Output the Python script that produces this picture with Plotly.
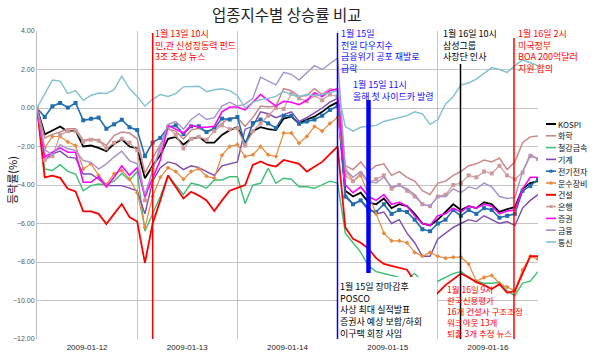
import plotly.graph_objects as go

# ---------------- data ----------------
dates = ["2009-01-12", "2009-01-13", "2009-01-14", "2009-01-15", "2009-01-16"]
pts_per_day = 13

kospi = [0, -1.37, -1.17, -0.96, -1.22, -1.17, -2.0, -1.95, -2.07, -2.24, -1.86, -1.63, -2.0,
         -2.1, -3.65, -3.0, -2.45, -1.6, -1.5, -1.9, -1.6, -1.5, -1.8, -1.8, -1.4,
         -1.15, -1.0, -1.83, -1.2, -1.0, -1.1, -1.15, -0.55, -0.45, -0.8, -0.6, -0.45, -0.2, 0.1, 0.3,
         -4.3, -4.6, -4.4, -4.9, -5.0, -4.7, -5.2, -5.0, -5.1, -5.5, -6.0, -6.1, -5.8,
         -5.4, -5.0, -5.3, -5.1, -5.2, -4.9, -5.0, -5.4, -5.25, -5.15, -4.2, -3.9, -3.8]
chem = [0, -1.55, -1.37, -1.25, -1.08, -1.08, -1.69, -1.6, -1.69, -1.95, -1.43, -1.25, -1.3,
        -1.6, -3.4, -2.6, -1.9, -1.1, -1.2, -1.6, -1.15, -1.05, -1.25, -1.1, -0.8,
        -0.5, -0.5, -0.95, -0.5, 0.1, 0.05, 0.1, 1.0, 0.9, 0.6, 0.65, 1.0, 0.7, 1.0, 0.9,
        -3.0, -3.2, -2.8, -3.3, -3.0, -2.9, -3.5, -3.3, -3.6, -3.8, -4.3, -4.5, -3.9,
        -3.8, -3.5, -3.3, -3.0, -2.9, -2.7, -2.8, -2.6, -3.2, -2.8, -1.8, -1.5, -1.45]
steel = [0, -3.17, -3.25, -2.94, -3.29, -3.43, -4.3, -4.03, -3.95, -3.98, -3.8, -3.39, -3.77,
         -3.3, -6.4, -5.5, -4.6, -3.5, -4.0, -4.5, -3.9, -4.0, -4.17, -3.74, -3.74,
         -3.57, -3.57, -4.96, -4.0, -3.91, -3.13, -3.91, -3.65, -3.7, -4.09, -4.09, -4.17, -4.0, -3.8, -3.9,
         -6.5, -7.0, -7.5, -8.2, -8.5, -8.6, -8.7, -8.8, -8.9, -8.6, -9.0, -9.1, -9.0,
         -8.8, -8.6, -8.5, -8.8, -9.0, -9.1, -9.1, -9.05, -9.5, -9.75, -9.1, -9.0, -8.5]
machine = [0, -2.7, -2.38, -2.24, -2.55, -2.6, -3.43, -3.43, -3.7, -4.03, -4.03, -4.03, -4.16,
           -4.3, -5.5, -3.8, -3.1, -2.8, -2.9, -3.2, -3.0, -3.1, -3.3, -3.5, -3.0,
           -2.9, -2.8, -1.1, -0.95, -0.2, -0.3, -0.5, -0.35, -0.2, -0.7, -0.5, -0.25, 0.0, 0.3, 0.5,
           -4.5, -5.0, -4.8, -5.2, -5.5, -5.4, -6.0, -5.8, -6.5, -7.0, -7.7, -7.7, -6.8,
           -6.5, -6.2, -6.0, -5.8, -5.9, -5.6, -5.8, -6.0, -5.9, -6.1, -5.2, -4.8, -4.5]
elec = [0, -0.47, 0.09, 0.26, 0.02, 0.26, -0.64, -0.56, -0.5, -1.08, -0.85, -0.61, -1.0,
        -1.15, -2.5, -1.8, -1.55, -1.0, -0.9, -1.35, -0.95, -0.95, -1.25, -1.05, -0.55,
        -0.6, -0.47, -1.91, -0.78, -0.6, -0.8, -1.04, -0.4, -0.4, -0.82, -0.7, -0.6, -0.4, -0.1, 0.1,
        -4.6, -5.0, -4.8, -5.3, -5.4, -5.0, -5.5, -5.3, -5.4, -5.8, -6.3, -6.4, -6.0,
        -5.8, -5.3, -5.6, -5.3, -5.5, -5.2, -5.3, -5.7, -5.6, -5.5, -4.3, -4.05, -3.7]
transport = [0, -2.07, -1.48, -1.48, -1.77, -1.95, -3.17, -2.9, -3.5, -3.98, -3.42, -3.25, -3.68,
             -4.4, -6.2, -4.6, -3.6, -3.1, -3.3, -3.7, -3.3, -3.15, -3.55, -3.65, -2.45,
             -2.0, -1.9, -2.52, -2.43, -2.0, -2.43, -2.52, -1.3, -1.3, -1.83, -1.48, -0.96, -1.2, -0.8, -0.5,
             -3.2, -3.8, -3.5, -4.5, -5.5, -6.5, -6.9, -6.9, -7.0, -7.5, -7.7, -7.5, -7.7,
             -7.8, -7.75, -7.75, -8.1, -9.0, -8.8, -8.7, -9.1, -9.3, -9.5, -8.4, -7.7, -7.85]
construct = [0, -3.6, -3.51, -3.63, -4.2, -4.33, -5.37, -5.37, -5.5, -6.03, -5.5, -4.99, -5.67,
             -5.9, -8.05, -6.0, -4.8, -3.5, -4.1, -4.7, -4.35, -4.55, -4.8, -5.35, -4.8,
             -4.3, -4.15, -4.0, -2.96, -2.78, -2.96, -3.04, -2.7, -2.8, -2.9, -3.3, -3.04, -2.8, -2.4, -2.0,
             -6.2, -6.8, -7.0, -7.3, -7.8, -8.1, -8.2, -8.3, -8.4, -9.0, -9.5, -10.1, -9.6,
             -9.2, -8.9, -8.6, -8.8, -9.05, -9.2, -9.4, -9.15, -9.6, -9.5, -8.6, -7.7, -7.7]
bank = [0, -2.7, -2.5, -1.4, -1.2, -1.2, -1.75, -1.65, -1.7, -2.1, -1.8, -1.6, -1.8,
        -2.2, -4.8, -3.2, -2.2, -1.0, -1.4, -2.1, -1.6, -1.5, -1.65, -1.2, -0.9,
        -1.1, -1.05, -1.95, -1.2, -0.8, -0.4, 0.0, -0.05, 0.75, 0.5, 0.35, 0.65, 0.4, 0.7, 0.6,
        -3.5, -3.8, -3.4, -3.9, -3.7, -3.5, -4.2, -4.0, -4.3, -4.6, -5.0, -5.1, -4.6,
        -4.5, -4.0, -3.9, -3.5, -3.6, -3.3, -3.4, -3.0, -3.5, -3.7, -3.35, -2.5, -2.65]
securities = [0, -2.55, -2.3, -2.07, -2.3, -2.3, -3.86, -3.86, -3.57, -4.1, -3.6, -3.0, -3.5,
              -3.1, -4.6, -3.6, -2.7, -0.9, -1.1, -1.3, -0.9, -1.0, -1.0, -0.95, -0.2,
              0.05, 0.05, -0.1, 0.3, 0.7, 0.4, 0.1, 0.35, 0.3, 0.17, 0.4, 0.8, 0.6, 0.9, 1.0,
              -4.0, -4.4, -4.1, -4.6, -4.8, -4.5, -5.0, -4.9, -5.1, -5.6, -6.0, -6.1, -5.6,
              -5.5, -5.2, -5.4, -5.1, -5.2, -5.0, -5.1, -5.5, -5.35, -5.3, -4.2, -3.6, -3.6]
finance = [0, -2.17, -2.42, -1.9, -2.12, -2.2, -2.73, -2.82, -3.17, -2.9, -2.55, -2.25, -2.73,
           -2.9, -4.5, -3.2, -2.0, -0.85, -0.7, -1.1, -0.6, -0.3, -0.6, -0.5, 0.1,
           0.3, 0.1, 0.2, 0.5, 1.6, 1.4, 1.2, 1.85, 1.75, 1.45, 1.8, 2.2, 2.0, 2.3, 2.6,
           -3.2, -3.6, -3.3, -3.8, -3.9, -3.6, -4.1, -4.0, -4.2, -4.5, -5.0, -5.1, -4.6,
           -4.6, -4.2, -4.4, -4.1, -4.2, -3.9, -4.1, -4.6, -4.7, -4.65, -3.3, -2.4, -2.65]
telecom = [0, 0.7, 1.45, 1.40, 0.75, 0.9, 0.4, 0.65, 0.78, 0.75, 0.95, 1.65, 1.0,
           0.6, 0.1, 0.45, 0.7, 0.6, 0.75, 1.1, 1.1, 1.13, 0.85, 0.95, 1.0,
           0.9, 0.65, 0.0, 0.3, 0.43, 0.5, 0.6, 0.87, 0.7, 0.6, 0.7, 0.65, 0.7, 0.8, 0.9,
           -0.96, -1.2, -1.0, -0.95, -0.9, -0.7, -0.6, -0.5, -0.4, -0.2, -0.3, -0.85, -0.6,
           0.2, 0.6, 1.2, 1.3, 1.5, 1.8, 2.1, 2.0, 1.85, 2.2, 2.5, 2.35, 2.2]

series_names = ["KOSPI", "화학", "철강금속", "기계", "전기전자", "운수장비", "건설", "은행", "증권", "금융", "통신"]
series_values = [kospi, chem, steel, machine, elec, transport, construct, bank, securities, finance, telecom]
colors = ["#000000", "#C8888C", "#3DBE74", "#7D4BB0", "#1F6DAE", "#E8893C", "#FF0000",
          "#D09A9A", "#FF00FF", "#A592CC", "#82C0D2"]
widths = [1.8, 1.5, 1.4, 1.4, 1.6, 1.2, 1.8, 1.2, 1.6, 1.4, 1.4]
markers = [None, None, None, None, "square", "diamond", None, "square", None, None, None]
msizes = [0, 0, 0, 0, 4, 3.5, 0, 4, 0, 0, 0]

x = list(range(len(kospi)))
n_int = len(kospi) - 1

W, H = 600, 354
L, R, T, B = 37, 538, 31, 339


def px(xp):
    return (xp - L) / (R - L)


def py(yp):
    return (B - yp) / (B - T)


def xi(xp):
    return (xp - L) / (R - L) * n_int


fig = go.Figure()
for name, vals, c, w, m, ms in zip(series_names, series_values, colors, widths, markers, msizes):
    fig.add_trace(go.Scatter(
        x=x, y=vals, name=name, mode="lines+markers" if m else "lines",
        line=dict(color=c, width=w),
        marker=dict(symbol=m, size=ms, color=c) if m else None,
        showlegend=False, hoverinfo="skip"))

shapes = []
annos = []

# white box behind POSCO text
shapes.append(dict(type="rect", xref="paper", yref="paper", x0=px(338.5), x1=px(437), y0=py(338.5), y1=py(277),
                   fillcolor="white", line=dict(width=0), layer="above"))


def vline(xpix, y0pix, y1pix, color, width):
    shapes.append(dict(type="line", xref="x", yref="paper", x0=xi(xpix), x1=xi(xpix), y0=py(y1pix), y1=py(y0pix),
                       line=dict(color=color, width=width), layer="above"))


vline(152.7, 33, 339, "#FF0000", 1.5)
vline(337.5, 33, 339, "#0000FF", 1.5)
vline(368.5, 100, 273, "#0000FF", 4.5)
vline(460.5, 64, 339, "#000000", 1.5)
vline(514, 38, 339, "#FF0000", 1.5)

KFONT = "Noto Sans CJK KR, Noto Sans, sans-serif"


def text_block(lines, xpix, ytop, color, size=9):
    annos.append(dict(text="<br>".join(lines), xref="paper", yref="paper", x=px(xpix), y=py(ytop),
                      xanchor="left", yanchor="top", align="left", showarrow=False, borderpad=0,
                      font=dict(family=KFONT, size=size, color=color)))


text_block(["1월 13일 10시", "민,관 신성장동력 펀드", "3조 조성 뉴스"], 154, 26, "#FF0000")
text_block(["1월 15일", "전일 다우지수", "금융위기 공포 재발로", "급락"], 340, 26, "#1010FF")
text_block(["1월 15일 11시", "올해 첫 사이드카 발령"], 352, 77, "#1010FF")
text_block(["1월 16일 10시", "삼성그룹", "사장단 인사"], 442, 26, "#000000")
text_block(["1월 16일 2시", "미국정부", "BOA 200억달러", "지원 합의"], 517, 26, "#FF0000")
text_block(["1월 15일 장마감후", "POSCO", "사상 최대 실적발표", "증권사 예상 보합/하회", "이구택 회장 사임"],
           339, 279, "#000000", 9)
text_block(["1월 16일 9시", "한국신용평가", "16개 건설사 구조조정", "워크아웃 13개", "퇴출 3개 추정 뉴스"],
           446, 282, "#FF0000", 8.5)

# title
annos.append(dict(text="업종지수별 상승률 비교", xref="paper", yref="paper", x=px(287), y=py(14),
                  xanchor="center", yanchor="middle", showarrow=False,
                  font=dict(family=KFONT, size=15.5, color="#222222")))
# y-axis title
annos.append(dict(text="등락률(%)", xref="paper", yref="paper", x=px(12), y=py(180), textangle=-90,
                  xanchor="center", yanchor="middle", showarrow=False,
                  font=dict(family=KFONT, size=11, color="#111111")))

# manual legend
for k, (name, c, m) in enumerate(zip(series_names, colors, markers)):
    yy = 124 + k * 11.8
    shapes.append(dict(type="line", xref="paper", yref="paper", x0=px(546), x1=px(556), y0=py(yy), y1=py(yy),
                       line=dict(color=c, width=2 if k in (0, 6) else 1.6)))
    if m:
        shapes.append(dict(type="rect", xref="paper", yref="paper", x0=px(549.5), x1=px(552.5),
                           y0=py(yy + 1.5), y1=py(yy - 1.5), fillcolor=c, line=dict(width=0)))
    annos.append(dict(text=name, xref="paper", yref="paper", x=px(557), y=py(yy), xanchor="left",
                      yanchor="middle", showarrow=False, borderpad=0,
                      font=dict(family=KFONT, size=8, color="#111111")))

label_pos = [pts_per_day / 2 + k * pts_per_day for k in range(len(dates))]

fig.update_layout(
    width=W, height=H, margin=dict(l=L, r=W - R, t=T, b=H - B),
    paper_bgcolor="white", plot_bgcolor="white",
    shapes=shapes, annotations=annos, showlegend=False,
    font=dict(family=KFONT),
    xaxis=dict(range=[0, n_int], tickvals=label_pos, ticktext=dates, showgrid=False, zeroline=False,
               showline=False, ticks="", automargin=False, ticklabelstandoff=2,
               tickfont=dict(size=8, color="#222222", family="Liberation Sans, Arial"),
               minor=dict(tick0=0, dtick=pts_per_day, showgrid=True, gridcolor="#C4C4C4", gridwidth=1, ticks="")),
    yaxis=dict(range=[-12, 4], dtick=2, tickformat=".2f", showgrid=True, gridcolor="#C4C4C4", gridwidth=1,
               zeroline=False, showline=True, linecolor="#BBBBBB", ticks="", automargin=False,
               tickfont=dict(size=7, color="#555555", family="Liberation Sans, Arial")),
)

fig.write_html("out.html")
